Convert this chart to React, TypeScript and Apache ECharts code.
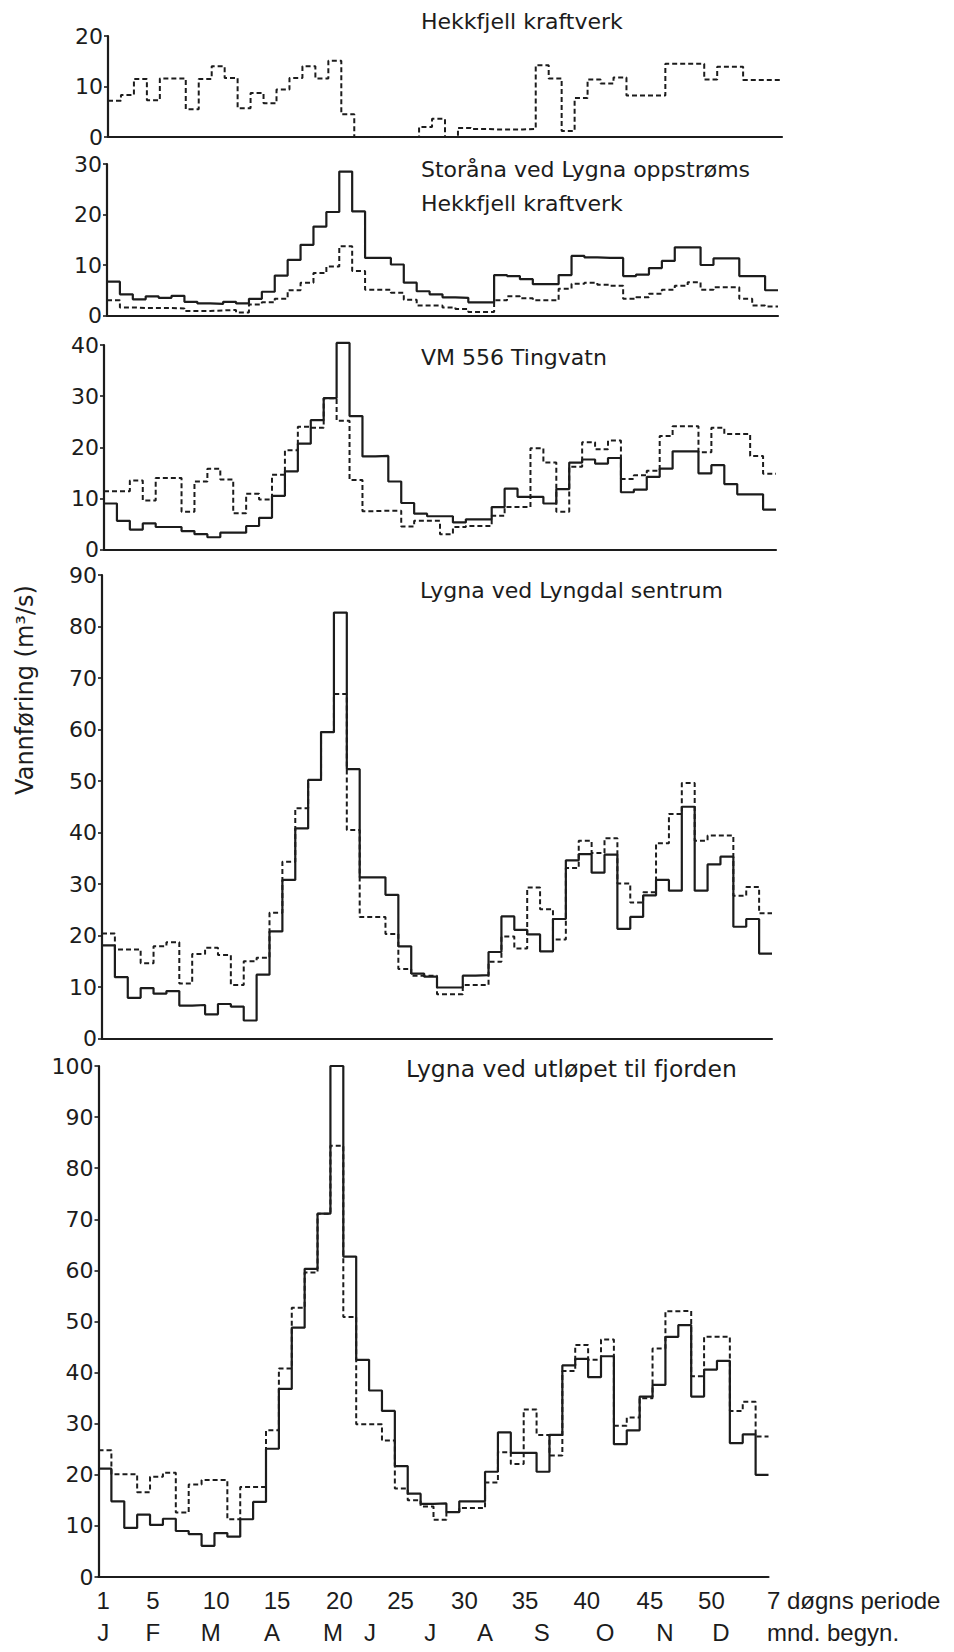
import React, { useEffect, useRef } from "react";
import * as echarts from "echarts";

// ---------- data ----------
const weeks: number[] = Array.from({ length: 52 }, (_, i) => i + 1);
const periodTickLabels = [1, 5, 10, 15, 20, 25, 30, 35, 40, 45, 50];
// where each period label sits, in week units
const periodTickPositions = [0.87, 4.72, 9.63, 14.36, 19.2, 23.94, 28.9, 33.6, 38.4, 43.3, 48.07];
const monthLabels = ["J", "F", "M", "A", "M", "J", "J", "A", "S", "O", "N", "D"];
const monthPositions = [0.87, 4.72, 9.22, 13.96, 18.7, 21.57, 26.24, 30.49, 34.9, 39.81, 44.47, 48.81];

const hekkfjellDashed = [7.2, 8.3, 11.5, 7.3, 11.6, 11.6, 5.5, 11.5, 14.0, 11.7, 5.7, 8.7, 6.7, 9.4, 11.7, 14.0, 11.6, 15.1, 4.5, 0, 0, 0, 0, 0, 2.0, 3.6, 0, 1.8, 1.6, 1.5, 1.5, 1.5, 1.6, 14.2, 11.6, 1.2, 7.7, 11.4, 10.6, 11.8, 8.2, 8.2, 8.2, 14.5, 14.5, 14.5, 11.4, 13.9, 13.9, 11.3, 11.3, 11.3];

const storanaSolid = [6.7, 4.2, 3.2, 3.8, 3.5, 3.9, 2.7, 2.4, 2.3, 2.7, 2.4, 3.3, 4.7, 7.9, 11.0, 14.0, 17.6, 20.5, 28.5, 20.6, 11.4, 11.4, 10.1, 6.5, 4.8, 4.2, 3.6, 3.5, 2.6, 2.6, 8.0, 7.8, 7.2, 6.2, 6.2, 8.0, 11.8, 11.5, 11.4, 11.4, 7.8, 8.1, 9.4, 10.8, 13.5, 13.5, 10.0, 11.3, 11.3, 7.8, 7.8, 5.0];
const storanaDashed = [3.0, 1.6, 1.5, 1.5, 1.5, 1.4, 0.9, 0.9, 1.0, 1.1, 0.6, 2.2, 2.6, 3.3, 5.0, 6.5, 8.4, 9.7, 13.7, 8.8, 5.1, 5.1, 4.5, 3.1, 2.0, 2.0, 1.6, 1.3, 0.7, 0.7, 3.0, 3.8, 3.4, 3.0, 3.0, 5.3, 6.3, 6.5, 6.1, 5.9, 3.3, 3.6, 4.3, 5.1, 5.9, 6.6, 5.1, 5.6, 5.6, 3.3, 2.0, 1.8];

const tingvatnSolid = [9.0, 5.6, 3.9, 5.1, 4.4, 4.4, 3.6, 3.0, 2.4, 3.3, 3.3, 4.6, 6.2, 10.5, 15.3, 20.7, 25.3, 29.6, 40.4, 26.1, 18.2, 18.3, 13.3, 9.1, 7.0, 6.5, 6.5, 5.3, 5.9, 5.9, 8.3, 11.9, 10.3, 10.3, 9.0, 11.8, 17.0, 17.6, 16.8, 17.9, 11.2, 11.7, 14.2, 15.8, 19.2, 19.2, 14.9, 16.5, 12.8, 10.8, 10.8, 7.8];
const tingvatnDashed = [11.4, 11.4, 13.5, 9.6, 14.0, 14.0, 7.4, 13.3, 15.8, 13.7, 7.1, 10.9, 9.8, 14.6, 19.4, 24.0, 23.8, 29.6, 25.2, 13.6, 7.5, 7.6, 7.6, 4.5, 5.6, 5.6, 3.0, 4.4, 4.6, 4.6, 6.6, 8.3, 8.3, 19.8, 17.0, 7.4, 16.2, 21.0, 19.6, 21.3, 13.8, 14.5, 15.4, 22.2, 24.1, 24.1, 19.0, 23.8, 22.6, 22.6, 18.3, 14.8];

const lyngdalSolid = [18.1, 11.9, 7.9, 9.8, 8.7, 9.2, 6.4, 6.5, 4.7, 6.7, 6.2, 3.5, 12.4, 20.8, 30.8, 40.8, 50.2, 59.5, 82.7, 52.3, 31.3, 31.3, 27.9, 17.9, 12.6, 12.0, 9.9, 9.9, 12.2, 12.3, 16.8, 23.7, 21.1, 20.2, 16.9, 23.2, 34.6, 35.8, 32.2, 35.7, 21.3, 23.6, 27.8, 30.8, 28.7, 45.0, 28.7, 33.8, 35.3, 21.7, 23.2, 16.5];
const lyngdalDashed = [20.4, 17.3, 17.3, 14.6, 17.9, 18.7, 10.7, 16.4, 17.6, 16.2, 10.4, 15.0, 15.7, 24.4, 34.3, 44.7, 50.2, 59.5, 66.9, 40.5, 23.6, 23.6, 20.3, 13.5, 12.2, 12.2, 8.6, 8.6, 10.4, 10.4, 14.9, 19.8, 17.5, 29.3, 25.1, 19.2, 33.1, 38.4, 36.0, 38.9, 30.1, 26.4, 28.4, 37.9, 43.6, 49.6, 38.4, 39.4, 39.4, 27.7, 29.4, 24.3];

const fjordenSolid = [21.2, 14.8, 9.6, 12.2, 10.2, 11.4, 9.0, 8.4, 6.1, 8.6, 7.9, 11.3, 14.7, 25.1, 36.8, 48.8, 60.3, 71.1, 100, 62.7, 42.5, 36.5, 32.5, 21.7, 16.3, 14.3, 14.4, 12.7, 14.8, 14.8, 20.6, 28.3, 24.3, 24.3, 20.6, 27.8, 41.4, 42.7, 39.1, 43.2, 26.0, 28.7, 35.3, 37.6, 47.0, 49.3, 35.3, 40.6, 42.3, 26.2, 27.9, 20.0];
const fjordenDashed = [24.8, 20.1, 20.1, 16.6, 19.6, 20.4, 12.6, 18.1, 19.0, 19.0, 11.3, 17.6, 17.6, 28.7, 40.8, 52.7, 59.6, 71.1, 84.4, 50.9, 29.9, 29.9, 26.7, 17.3, 15.0, 13.8, 11.2, 12.7, 13.5, 13.5, 18.5, 24.4, 22.1, 32.8, 27.8, 23.8, 40.3, 45.4, 42.5, 46.5, 29.6, 31.2, 35.0, 44.7, 52.0, 52.1, 39.3, 47.0, 47.0, 32.5, 34.3, 27.5];

const panelTitles = [
  ["Hekkfjell kraftverk"],
  ["Storåna ved Lygna oppstrøms", "Hekkfjell kraftverk"],
  ["VM 556 Tingvatn"],
  ["Lygna ved Lyngdal sentrum"],
  ["Lygna ved utløpet til fjorden"],
];
const yMaxima = [20, 30, 40, 90, 100];
const yAxisTitle = "Vannføring (m³/s)";
const periodCaption = "7 døgns periode";
const monthCaption = "mnd. begyn.";

const panelSeries: { solid: number[] | null; dashed: number[] }[] = [
  { solid: null, dashed: hekkfjellDashed },
  { solid: storanaSolid, dashed: storanaDashed },
  { solid: tingvatnSolid, dashed: tingvatnDashed },
  { solid: lyngdalSolid, dashed: lyngdalDashed },
  { solid: fjordenSolid, dashed: fjordenDashed },
];

// ---------- layout & style ----------
const W = 954;
const H = 1652;
const INK = "#1c1c1c";
const gridBoxes = [
  { left: 108, top: 36, width: 674, height: 101 },
  { left: 107, top: 164, width: 671, height: 151.5 },
  { left: 104, top: 345, width: 672, height: 204.5 },
  { left: 102, top: 575, width: 670, height: 463.5 },
  { left: 98.5, top: 1066, width: 670, height: 511 },
];
const titlePositions = [
  [[421, 21]],
  [[421, 169], [421, 203]],
  [[421, 357]],
  [[420, 590]],
  [[406, 1069]],
];
const titleFonts = ['22px "DejaVu Sans"', '22px "DejaVu Sans"', '22px "DejaVu Sans"', '22px "DejaVu Sans"', '23.5px "DejaVu Sans"'];
const BOTTOM_FONT_FAMILY = "Liberation Sans";

const stepData = (vals: number[]) =>
  vals
    .map((v, i) => [weeks[i] - 0.5, v])
    .concat([[weeks[vals.length - 1] + 0.5, vals[vals.length - 1]]]);

function labelAt(positions: number[], labels: (string | number)[]) {
  return (v: number) => {
    const k = positions.findIndex((p) => Math.abs(p - v) < 1e-6);
    return k >= 0 ? String(labels[k]) : "";
  };
}

function buildOption() {
  const last = gridBoxes.length - 1;
  const xAxes: any[] = gridBoxes.map((_, i) => ({
    type: "value",
    gridIndex: i,
    min: 0.5,
    max: 52.5,
    position: "bottom",
    axisLine: { show: true, onZero: false, lineStyle: { color: INK, width: 2.2 } },
    axisTick: { show: false },
    splitLine: { show: false },
    axisLabel:
      i === last
        ? {
            show: true,
            customValues: periodTickPositions,
            formatter: labelAt(periodTickPositions, periodTickLabels),
            margin: 11,
            fontSize: 24,
            fontFamily: BOTTOM_FONT_FAMILY,
            color: INK,
          }
        : { show: false },
  }));
  xAxes.push({
    type: "value",
    gridIndex: last,
    min: 0.5,
    max: 52.5,
    position: "bottom",
    axisLine: { show: false },
    axisTick: { show: false },
    splitLine: { show: false },
    axisLabel: {
      show: true,
      customValues: monthPositions,
      formatter: labelAt(monthPositions, monthLabels),
      margin: 43,
      fontSize: 24,
      fontFamily: BOTTOM_FONT_FAMILY,
      color: INK,
    },
  });

  const yAxes = gridBoxes.map((_, i) => ({
    type: "value",
    gridIndex: i,
    min: 0,
    max: yMaxima[i],
    interval: 10,
    axisLine: { show: true, lineStyle: { color: INK, width: 2.2 } },
    axisTick: { show: true, length: 4, lineStyle: { color: INK, width: 1.6 } },
    axisLabel: { fontSize: 22, fontFamily: "DejaVu Sans", color: INK, margin: 5 },
    splitLine: { show: false },
  }));

  const series: any[] = [];
  panelSeries.forEach((p, i) => {
    series.push({
      type: "line",
      xAxisIndex: i,
      yAxisIndex: i,
      data: stepData(p.dashed),
      step: "end",
      symbol: "none",
      clip: false,
      silent: true,
      z: 2,
      lineStyle: { color: INK, width: 2, type: [5, 3] },
    });
    if (p.solid) {
      series.push({
        type: "line",
        xAxisIndex: i,
        yAxisIndex: i,
        data: stepData(p.solid),
        step: "end",
        symbol: "none",
        clip: false,
        silent: true,
        z: 3,
        lineStyle: { color: INK, width: 2.2, type: "solid" },
      });
    }
  });

  const graphic: any[] = [];
  panelTitles.forEach((lines, i) => {
    lines.forEach((t, j) => {
      const [x, y] = titlePositions[i][j];
      graphic.push({
        type: "text",
        x,
        y,
        silent: true,
        style: { text: t, font: titleFonts[i], fill: INK, align: "left", verticalAlign: "middle" },
      });
    });
  });
  graphic.push({
    type: "text",
    x: 25,
    y: 690,
    rotation: Math.PI / 2,
    silent: true,
    style: { text: yAxisTitle, font: '24px "DejaVu Sans"', fill: INK, align: "center", verticalAlign: "middle" },
  });
  graphic.push({
    type: "text",
    x: 767,
    y: 1600,
    silent: true,
    style: { text: periodCaption, font: `24px "${BOTTOM_FONT_FAMILY}"`, fill: INK, align: "left", verticalAlign: "middle" },
  });
  graphic.push({
    type: "text",
    x: 767,
    y: 1632,
    silent: true,
    style: { text: monthCaption, font: `24px "${BOTTOM_FONT_FAMILY}"`, fill: INK, align: "left", verticalAlign: "middle" },
  });

  return {
    animation: false,
    backgroundColor: "#ffffff",
    grid: gridBoxes.map((g) => ({ ...g, outerBoundsMode: "none", containLabel: false })),
    xAxis: xAxes,
    yAxis: yAxes,
    series,
    graphic,
  };
}

export default function App() {
  const ref = useRef<HTMLDivElement>(null);
  useEffect(() => {
    if (!ref.current) return;
    const chart = echarts.init(ref.current, undefined, { renderer: "svg", width: W, height: H });
    chart.setOption(buildOption() as any);
    return () => chart.dispose();
  }, []);
  return (
    <div
      ref={ref}
      style={{ position: "absolute", left: 0, top: 0, width: W, height: H, background: "#fff" }}
    />
  );
}
